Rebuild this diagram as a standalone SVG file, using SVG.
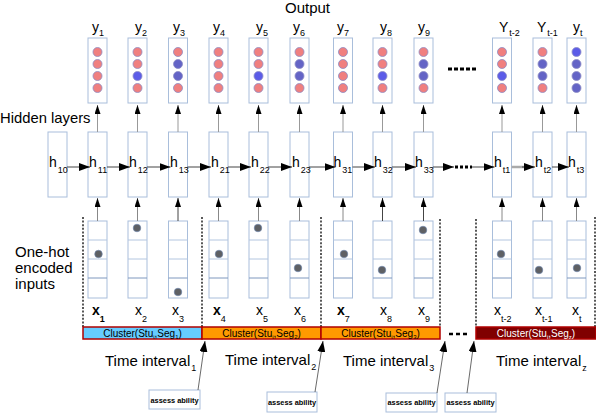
<svg xmlns="http://www.w3.org/2000/svg" width="596" height="414" viewBox="0 0 596 414">
<defs>
<style>
text{font-family:"Liberation Sans",Arial,sans-serif;fill:#000}
.box{fill:#fff;stroke:#a9bedb;stroke-width:1}
.dv{stroke:#b3c6e0;stroke-width:1}
.dv2{stroke:#7f98be;stroke-width:1}
.r{fill:#f07f7f;stroke:#8c8cc4;stroke-width:0.8}
.b{fill:#6464c6;stroke:#8c8cc4;stroke-width:0.8}
.bb{fill:#5c5ce8;stroke:#8c8cc4;stroke-width:0.8}
.dot{fill:#5e6064;stroke:#6f88b2;stroke-width:0.6}
.lab{font-size:14px}
.sub{font-size:9px}
.hz{stroke:#444;stroke-width:1;fill:none;marker-end:url(#ah)}
.vo{stroke:#999;stroke-width:1;fill:none;marker-end:url(#av)}
.vi{stroke:#888;stroke-width:1;fill:none;marker-end:url(#av)}
.vd{stroke:#000;stroke-width:1.3;stroke-dasharray:2 1.6;fill:none}
.seg{stroke:#b00000;stroke-width:1.5}
.ct{font-size:10px;text-anchor:middle}
.cs{font-size:6px}
.ti{font-size:15px}
.ab{fill:#fff;stroke:#a9bedb;stroke-width:1}
.at{font-size:7.4px;font-weight:bold;text-anchor:middle}
.aa{stroke:#444;stroke-width:0.8;fill:none;marker-end:url(#ah)}
</style>
<marker id="ah" markerUnits="userSpaceOnUse" markerWidth="11" markerHeight="8" refX="11" refY="4" orient="auto"><path d="M0,0 L11,4 L0,8 z" fill="#000"/></marker>
<marker id="av" markerUnits="userSpaceOnUse" markerWidth="9" markerHeight="6" refX="9" refY="3" orient="auto"><path d="M0,0 L9,3 L0,6 z" fill="#000"/></marker>
</defs>

<rect width="596" height="414" fill="#fff"/>

<g id="titles">
<text x="285" y="13" class="ti">Output</text>
<text x="0" y="123" style="font-size:14.8px">Hidden layers</text>
<text x="15" y="257" class="ti">One-hot</text>
<text x="15" y="273" class="ti">encoded</text>
<text x="15" y="289" class="ti">inputs</text>
</g>

<g id="output-layer">
<g id="y1"><rect class="box" x="88" y="38" width="19" height="65"/><circle class="r" cx="97.5" cy="52" r="4.5"/><circle class="r" cx="97.5" cy="64" r="4.5"/><circle class="r" cx="97.5" cy="76" r="4.5"/><circle class="r" cx="97.5" cy="88" r="4.5"/><text class="lab" x="92" y="32">y<tspan class="sub" dy="4">1</tspan></text></g>
<g id="y2"><rect class="box" x="128" y="38" width="19" height="65"/><circle class="r" cx="137.5" cy="52" r="4.5"/><circle class="r" cx="137.5" cy="64" r="4.5"/><circle class="bb" cx="137.5" cy="76" r="4.5"/><circle class="r" cx="137.5" cy="88" r="4.5"/><text class="lab" x="135" y="32">y<tspan class="sub" dy="4">2</tspan></text></g>
<g id="y3"><rect class="box" x="168.5" y="38" width="19" height="65"/><circle class="r" cx="178" cy="52" r="4.5"/><circle class="b" cx="178" cy="64" r="4.5"/><circle class="b" cx="178" cy="76" r="4.5"/><circle class="r" cx="178" cy="88" r="4.5"/><text class="lab" x="173" y="32">y<tspan class="sub" dy="4">3</tspan></text></g>
<g id="y4"><rect class="box" x="209" y="38" width="19" height="65"/><circle class="r" cx="218.5" cy="52" r="4.5"/><circle class="r" cx="218.5" cy="64" r="4.5"/><circle class="r" cx="218.5" cy="76" r="4.5"/><circle class="r" cx="218.5" cy="88" r="4.5"/><text class="lab" x="213" y="32">y<tspan class="sub" dy="4">4</tspan></text></g>
<g id="y5"><rect class="box" x="249" y="38" width="19" height="65"/><circle class="r" cx="258.5" cy="52" r="4.5"/><circle class="r" cx="258.5" cy="64" r="4.5"/><circle class="bb" cx="258.5" cy="76" r="4.5"/><circle class="r" cx="258.5" cy="88" r="4.5"/><text class="lab" x="256" y="32">y<tspan class="sub" dy="4">5</tspan></text></g>
<g id="y6"><rect class="box" x="290" y="38" width="19" height="65"/><circle class="r" cx="299.5" cy="52" r="4.5"/><circle class="b" cx="299.5" cy="64" r="4.5"/><circle class="b" cx="299.5" cy="76" r="4.5"/><circle class="r" cx="299.5" cy="88" r="4.5"/><text class="lab" x="293" y="32">y<tspan class="sub" dy="4">6</tspan></text></g>
<g id="y7"><rect class="box" x="333.5" y="38" width="19" height="65"/><circle class="r" cx="343" cy="52" r="4.5"/><circle class="r" cx="343" cy="64" r="4.5"/><circle class="r" cx="343" cy="76" r="4.5"/><circle class="r" cx="343" cy="88" r="4.5"/><text class="lab" x="337" y="32">y<tspan class="sub" dy="4">7</tspan></text></g>
<g id="y8"><rect class="box" x="373" y="38" width="19" height="65"/><circle class="r" cx="382.5" cy="52" r="4.5"/><circle class="r" cx="382.5" cy="64" r="4.5"/><circle class="bb" cx="382.5" cy="76" r="4.5"/><circle class="r" cx="382.5" cy="88" r="4.5"/><text class="lab" x="380" y="32">y<tspan class="sub" dy="4">8</tspan></text></g>
<g id="y9"><rect class="box" x="414" y="38" width="19" height="65"/><circle class="r" cx="423.5" cy="52" r="4.5"/><circle class="b" cx="423.5" cy="64" r="4.5"/><circle class="b" cx="423.5" cy="76" r="4.5"/><circle class="r" cx="423.5" cy="88" r="4.5"/><text class="lab" x="418" y="32">y<tspan class="sub" dy="4">9</tspan></text></g>
<g id="yt-2"><rect class="box" x="492.5" y="38" width="19" height="65"/><circle class="r" cx="502" cy="52" r="4.5"/><circle class="r" cx="502" cy="64" r="4.5"/><circle class="bb" cx="502" cy="76" r="4.5"/><circle class="r" cx="502" cy="88" r="4.5"/><text class="lab" x="499" y="32">Y<tspan class="sub" dx="1" dy="4">t-2</tspan></text></g>
<g id="yt-1"><rect class="box" x="533" y="38" width="19" height="65"/><circle class="r" cx="542.5" cy="52" r="4.5"/><circle class="b" cx="542.5" cy="64" r="4.5"/><circle class="b" cx="542.5" cy="76" r="4.5"/><circle class="r" cx="542.5" cy="88" r="4.5"/><text class="lab" x="537" y="32">Y<tspan class="sub" dx="1" dy="4">t-1</tspan></text></g>
<g id="yt"><rect class="box" x="567" y="38" width="19" height="65"/><circle class="bb" cx="576.5" cy="52" r="4.5"/><circle class="b" cx="576.5" cy="64" r="4.5"/><circle class="b" cx="576.5" cy="76" r="4.5"/><circle class="b" cx="576.5" cy="88" r="4.5"/><text class="lab" x="573" y="32">y<tspan class="sub" dy="4">t</tspan></text></g>
<line x1="448" y1="69" x2="477" y2="69" stroke="#000" stroke-width="3" stroke-dasharray="4 2"/>
</g>

<g id="hidden-layer">
<g id="h10"><rect class="box" x="48" y="132" width="19" height="65"/><text class="lab" x="49" y="167">h<tspan class="sub" dx="1" dy="6">10</tspan></text></g>
<g id="h11"><rect class="box" x="88" y="132" width="19" height="65"/><text class="lab" x="89" y="167">h<tspan class="sub" dx="1" dy="6">11</tspan></text></g>
<g id="h12"><rect class="box" x="128" y="132" width="19" height="65"/><text class="lab" x="129" y="167">h<tspan class="sub" dx="1" dy="6">12</tspan></text></g>
<g id="h13"><rect class="box" x="168.5" y="132" width="19" height="65"/><text class="lab" x="170" y="167">h<tspan class="sub" dx="1" dy="6">13</tspan></text></g>
<g id="h21"><rect class="box" x="209" y="132" width="19" height="65"/><text class="lab" x="211" y="167">h<tspan class="sub" dx="1" dy="6">21</tspan></text></g>
<g id="h22"><rect class="box" x="249" y="132" width="19" height="65"/><text class="lab" x="251" y="167">h<tspan class="sub" dx="1" dy="6">22</tspan></text></g>
<g id="h23"><rect class="box" x="290" y="132" width="19" height="65"/><text class="lab" x="292" y="167">h<tspan class="sub" dx="1" dy="6">23</tspan></text></g>
<g id="h31"><rect class="box" x="333.5" y="132" width="19" height="65"/><text class="lab" x="333.5" y="167">h<tspan class="sub" dx="1" dy="6">31</tspan></text></g>
<g id="h32"><rect class="box" x="373" y="132" width="19" height="65"/><text class="lab" x="374" y="167">h<tspan class="sub" dx="1" dy="6">32</tspan></text></g>
<g id="h33"><rect class="box" x="414" y="132" width="19" height="65"/><text class="lab" x="415" y="167">h<tspan class="sub" dx="1" dy="6">33</tspan></text></g>
<g id="ht1"><rect class="box" x="492.5" y="132" width="19" height="65"/><text class="lab" x="494" y="167">h<tspan class="sub" dx="1" dy="6">t1</tspan></text></g>
<g id="ht2"><rect class="box" x="533" y="132" width="19" height="65"/><text class="lab" x="535" y="167">h<tspan class="sub" dx="1" dy="6">t2</tspan></text></g>
<g id="ht3"><rect class="box" x="567" y="132" width="19" height="65"/><text class="lab" x="568" y="167">h<tspan class="sub" dx="1" dy="6">t3</tspan></text></g>
</g>

<g id="input-layer">
<g id="x1"><rect class="box" x="88" y="221" width="19" height="77"/><line class="dv" x1="88" y1="240" x2="107" y2="240"/><line class="dv" x1="88" y1="259" x2="107" y2="259"/><line class="dv2" x1="88" y1="278" x2="107" y2="278"/><circle class="dot" cx="98.5" cy="254" r="3.8"/><text class="lab" x="92" y="315" font-weight="bold">x<tspan class="sub" dy="6.5">1</tspan></text></g>
<g id="x2"><rect class="box" x="128" y="221" width="19" height="77"/><line class="dv" x1="128" y1="240" x2="147" y2="240"/><line class="dv" x1="128" y1="259" x2="147" y2="259"/><line class="dv2" x1="128" y1="278" x2="147" y2="278"/><circle class="dot" cx="137" cy="228" r="3.8"/><text class="lab" x="135" y="315">x<tspan class="sub" dy="6.5">2</tspan></text></g>
<g id="x3"><rect class="box" x="168.5" y="221" width="19" height="77"/><line class="dv" x1="168.5" y1="240" x2="187.5" y2="240"/><line class="dv" x1="168.5" y1="259" x2="187.5" y2="259"/><line class="dv2" x1="168.5" y1="278" x2="187.5" y2="278"/><circle class="dot" cx="178" cy="292" r="3.8"/><text class="lab" x="172" y="315">x<tspan class="sub" dy="6.5">3</tspan></text></g>
<g id="x4"><rect class="box" x="209" y="221" width="19" height="77"/><line class="dv" x1="209" y1="240" x2="228" y2="240"/><line class="dv" x1="209" y1="259" x2="228" y2="259"/><line class="dv2" x1="209" y1="278" x2="228" y2="278"/><circle class="dot" cx="219" cy="254" r="3.8"/><text class="lab" x="213" y="315"><tspan font-weight="bold">x</tspan><tspan class="sub" dy="6.5">4</tspan></text></g>
<g id="x5"><rect class="box" x="249" y="221" width="19" height="77"/><line class="dv" x1="249" y1="240" x2="268" y2="240"/><line class="dv" x1="249" y1="259" x2="268" y2="259"/><line class="dv2" x1="249" y1="278" x2="268" y2="278"/><circle class="dot" cx="258" cy="228" r="3.8"/><text class="lab" x="256" y="315">x<tspan class="sub" dy="6.5">5</tspan></text></g>
<g id="x6"><rect class="box" x="290" y="221" width="19" height="77"/><line class="dv" x1="290" y1="240" x2="309" y2="240"/><line class="dv" x1="290" y1="259" x2="309" y2="259"/><line class="dv2" x1="290" y1="278" x2="309" y2="278"/><circle class="dot" cx="298" cy="268" r="3.8"/><text class="lab" x="294" y="315">x<tspan class="sub" dy="6.5">6</tspan></text></g>
<g id="x7"><rect class="box" x="333.5" y="221" width="19" height="77"/><line class="dv" x1="333.5" y1="240" x2="352.5" y2="240"/><line class="dv" x1="333.5" y1="259" x2="352.5" y2="259"/><line class="dv2" x1="333.5" y1="278" x2="352.5" y2="278"/><circle class="dot" cx="344" cy="254" r="3.8"/><text class="lab" x="337" y="315"><tspan font-weight="bold">x</tspan><tspan class="sub" dy="6.5">7</tspan></text></g>
<g id="x8"><rect class="box" x="373" y="221" width="19" height="77"/><line class="dv" x1="373" y1="240" x2="392" y2="240"/><line class="dv" x1="373" y1="259" x2="392" y2="259"/><line class="dv2" x1="373" y1="278" x2="392" y2="278"/><circle class="dot" cx="382" cy="270" r="3.8"/><text class="lab" x="380" y="315">x<tspan class="sub" dy="6.5">8</tspan></text></g>
<g id="x9"><rect class="box" x="414" y="221" width="19" height="77"/><line class="dv" x1="414" y1="240" x2="433" y2="240"/><line class="dv" x1="414" y1="259" x2="433" y2="259"/><line class="dv2" x1="414" y1="278" x2="433" y2="278"/><circle class="dot" cx="423" cy="230" r="3.8"/><text class="lab" x="418" y="315">x<tspan class="sub" dy="6.5">9</tspan></text></g>
<g id="xt-2"><rect class="box" x="492.5" y="221" width="19" height="77"/><line class="dv" x1="492.5" y1="240" x2="511.5" y2="240"/><line class="dv" x1="492.5" y1="259" x2="511.5" y2="259"/><line class="dv2" x1="492.5" y1="278" x2="511.5" y2="278"/><circle class="dot" cx="501" cy="254" r="3.8"/><text class="lab" x="494" y="315">x<tspan class="sub" dy="6.5">t-2</tspan></text></g>
<g id="xt-1"><rect class="box" x="533" y="221" width="19" height="77"/><line class="dv" x1="533" y1="240" x2="552" y2="240"/><line class="dv" x1="533" y1="259" x2="552" y2="259"/><line class="dv2" x1="533" y1="278" x2="552" y2="278"/><circle class="dot" cx="539" cy="270" r="3.8"/><text class="lab" x="535" y="315">x<tspan class="sub" dy="6.5">t-1</tspan></text></g>
<g id="xt"><rect class="box" x="567" y="221" width="19" height="77"/><line class="dv" x1="567" y1="240" x2="586" y2="240"/><line class="dv" x1="567" y1="259" x2="586" y2="259"/><line class="dv2" x1="567" y1="278" x2="586" y2="278"/><circle class="dot" cx="577" cy="268" r="3.8"/><text class="lab" x="572" y="315">x<tspan class="sub" dy="6.5">t</tspan></text></g>
</g>

<g id="dividers">
<line class="vd" x1="83" y1="217" x2="83" y2="327"/>
<line class="vd" x1="202" y1="217" x2="202" y2="327"/>
<line class="vd" x1="321" y1="217" x2="321" y2="327"/>
<line class="vd" x1="440" y1="219" x2="440" y2="327"/>
<line class="vd" x1="476" y1="219" x2="476" y2="327"/>
<line class="vd" x1="595" y1="217" x2="595" y2="327"/>
</g>

<g id="clusters">
<g id="cluster1"><rect class="seg" x="83" y="327" width="119" height="12" fill="#66ccff"/><text class="ct" x="142.5" y="336.5">Cluster(Stu<tspan class="cs" dy="2">i</tspan><tspan dy="-2">,Seg</tspan><tspan class="cs" dy="2">1</tspan><tspan dy="-2">)</tspan></text></g>
<g id="cluster2"><rect class="seg" x="202" y="327" width="119" height="12" fill="#ff9900"/><text class="ct" x="261.5" y="336.5">Cluster(Stu<tspan class="cs" dy="2">i</tspan><tspan dy="-2">,Seg</tspan><tspan class="cs" dy="2">2</tspan><tspan dy="-2">)</tspan></text></g>
<g id="cluster3"><rect class="seg" x="321" y="327" width="119" height="12" fill="#ff9900"/><text class="ct" x="380.5" y="336.5">Cluster(Stu<tspan class="cs" dy="2">i</tspan><tspan dy="-2">,Seg</tspan><tspan class="cs" dy="2">3</tspan><tspan dy="-2">)</tspan></text></g>
<line x1="449" y1="334" x2="467" y2="334" stroke="#000" stroke-width="2.5" stroke-dasharray="4 3"/>
<g id="clusterz"><rect class="seg" x="476" y="327" width="120" height="12" fill="#800000"/><text class="ct" x="536" y="336.5" style="fill:#fff">Cluster(Stu<tspan class="cs" dy="2" style="fill:#fff">i</tspan><tspan dy="-2" style="fill:#fff">,Seg</tspan><tspan class="cs" dy="2" style="fill:#fff">z</tspan><tspan dy="-2" style="fill:#fff">)</tspan></text></g>
</g>

<g id="intervals">
<text class="ti" x="105" y="366">Time interval<tspan class="sub" dx="1" dy="5">1</tspan></text>
<text class="ti" x="225" y="365">Time interval<tspan class="sub" dx="1" dy="5">2</tspan></text>
<text class="ti" x="343" y="366">Time interval<tspan class="sub" dx="1" dy="5">3</tspan></text>
<text class="ti" x="496" y="366">Time interval<tspan class="sub" dx="1" dy="5">z</tspan></text>
</g>

<g id="assess">
<g id="assess1"><rect class="ab" x="149" y="390" width="51" height="19"/><text class="at" x="174.5" y="402.5">assess ability</text></g>
<g id="assess2"><rect class="ab" x="267" y="392" width="50" height="20"/><text class="at" x="292" y="404.5">assess ability</text></g>
<g id="assess3"><rect class="ab" x="386" y="393" width="51" height="19"/><text class="at" x="411.5" y="405">assess ability</text></g>
<g id="assess4"><rect class="ab" x="445" y="393" width="51" height="19"/><text class="at" x="470.5" y="405">assess ability</text></g>
</g>

<g id="connectors">
<line class="hz" x1="67" y1="167" x2="90" y2="167"/>
<line class="hz" x1="107" y1="167" x2="130" y2="167"/>
<line class="hz" x1="147" y1="167" x2="170.5" y2="167"/>
<line class="hz" x1="187.5" y1="167" x2="211" y2="167"/>
<line class="hz" x1="228" y1="167" x2="251" y2="167"/>
<line class="hz" x1="268" y1="167" x2="292" y2="167"/>
<line class="hz" x1="309" y1="167" x2="335.5" y2="167"/>
<line class="hz" x1="352.5" y1="167" x2="375" y2="167"/>
<line class="hz" x1="392" y1="167" x2="416" y2="167"/>
<line class="hz" x1="433" y1="167" x2="454" y2="167"/>
<line x1="455" y1="167" x2="472" y2="167" stroke="#000" stroke-width="3" stroke-dasharray="3 2"/>
<line class="hz" x1="472" y1="167" x2="494.5" y2="167"/>
<line x1="511.5" y1="167" x2="524" y2="167" stroke="#aaa" stroke-width="2.5"/>
<line class="hz" x1="522" y1="167" x2="535" y2="167"/>
<line class="hz" x1="552" y1="167" x2="569" y2="167"/>

<line class="vo" x1="97.5" y1="132" x2="97.5" y2="105"/>
<line class="vo" x1="137.5" y1="132" x2="137.5" y2="105"/>
<line class="vo" x1="178" y1="132" x2="178" y2="105"/>
<line class="vo" x1="218.5" y1="132" x2="218.5" y2="105"/>
<line class="vo" x1="258.5" y1="132" x2="258.5" y2="105"/>
<line class="vo" x1="299.5" y1="132" x2="299.5" y2="105"/>
<line class="vo" x1="343" y1="132" x2="343" y2="105"/>
<line class="vo" x1="382.5" y1="132" x2="382.5" y2="105"/>
<line class="vo" x1="423.5" y1="132" x2="423.5" y2="105"/>
<line class="vo" x1="502" y1="132" x2="502" y2="105"/>
<line class="vo" x1="542.5" y1="132" x2="542.5" y2="105"/>
<line class="vo" x1="576.5" y1="132" x2="576.5" y2="105"/>

<line class="vi" x1="97.5" y1="221" x2="97.5" y2="198"/>
<line class="vi" x1="137.5" y1="221" x2="137.5" y2="198"/>
<line class="vi" x1="178" y1="221" x2="178" y2="198" style="stroke:#444"/>
<line class="vi" x1="218.5" y1="221" x2="218.5" y2="198"/>
<line class="vi" x1="258.5" y1="221" x2="258.5" y2="198"/>
<line class="vi" x1="299.5" y1="221" x2="299.5" y2="198"/>
<line class="vi" x1="343" y1="221" x2="343" y2="198"/>
<line class="vi" x1="382.5" y1="221" x2="382.5" y2="198" style="stroke:#444"/>
<line class="vi" x1="423.5" y1="221" x2="423.5" y2="198" style="stroke:#444"/>
<line class="vi" x1="502" y1="221" x2="502" y2="198"/>
<line class="vi" x1="542.5" y1="221" x2="542.5" y2="198"/>
<line class="vi" x1="576.5" y1="221" x2="576.5" y2="198"/>

<line class="aa" x1="198" y1="390" x2="205" y2="341"/>
<line class="aa" x1="315" y1="392" x2="323" y2="341"/>
<line class="aa" x1="437" y1="393" x2="445" y2="341"/>
<line class="aa" x1="467" y1="393" x2="474" y2="341"/>
</g>
</svg>
